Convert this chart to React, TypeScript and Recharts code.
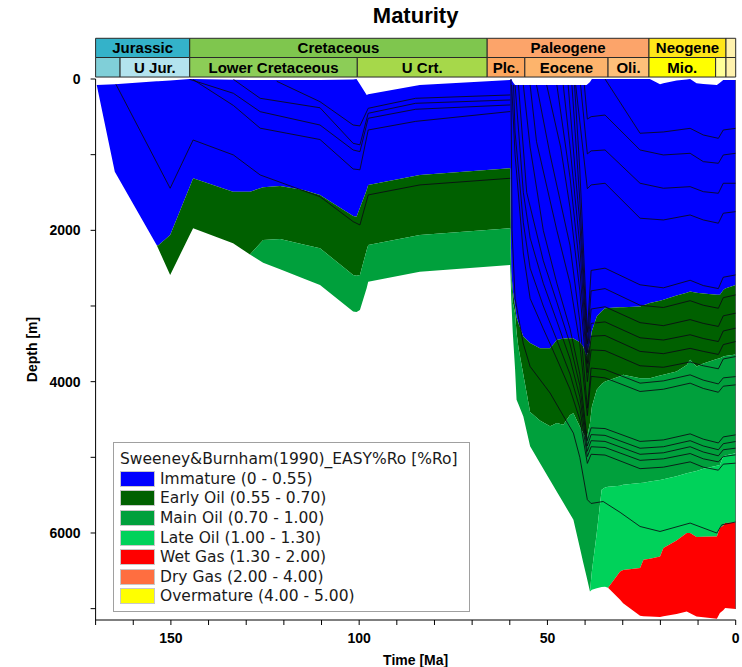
import {
  ComposedChart,
  Area,
  Line,
  XAxis,
  YAxis,
  Legend,
  ReferenceArea,
} from 'recharts'

// time grid (Ma) and zone boundaries (depth, m)
const TIME = [169.7, 164.9, 153.8, 153.4, 150.2, 145, 144.1, 133.5, 129, 125.5, 121, 114.8, 110.4, 101.6, 100.7, 99.8, 98, 97.6, 83.9, 59.9,
  59.6, 59.2, 58.6, 58.2, 57.7, 56.4, 54.6, 52, 49.3, 47.5, 45.8, 44, 43.1, 41.4, 40.5, 39.6, 38.7, 38.2, 36.9, 35.6, 34.7, 33.9, 30.7, 29.9,
  25.4, 24.5, 22.8, 20.1, 19.2, 15.7, 13, 12.1, 10.4, 8.6, 5, 4.2, 3.3, 2.8, 0]
const SURFACE = [79, 68, 30, 29, 20, 0, 0, 10, 13, 13, 13, 13, 13, 5, 0, 70, 211, 202, 79, 13,
  0, 40, 79, 79, 79, 79, 79, 79, 79, 79, 79, 79, 79, 79, 79, 79, 40, 0, 0, 0, 0, 0, 0, 0,
  0, 0, 0, 70, 55, 20, 5, 0, 57, 65, 79, 50, 13, 13, 13]
const IMM_BASE = [79, 1225, 2193, 2200, 2061, 1423, 1312, 1489, 1489, 1431, 1414, 1466, 1532, 1810, 1819, 1700, 1466, 1400, 1268, 1180,
  2550, 2800, 3000, 3150, 3227, 3404, 3490, 3557, 3557, 3448, 3430, 3425, 3430, 3480, 3536, 3668, 3490, 3330, 3140, 3070, 3029, 3025, 3018, 3016,
  3008, 2990, 2960, 2930, 2919, 2860, 2825, 2810, 2825, 2835, 2850, 2853, 2787, 2770, 2721]
const EARLY_BASE = [79, 1225, 2193, 2237, 2589, 2063, 1972, 2170, 2320, 2127, 2114, 2186, 2237, 2589, 2600, 2589, 2259, 2193, 2061, 1972,
  2650, 2950, 3095, 3350, 3550, 3910, 4400, 4514, 4590, 4548, 4571, 4440, 4416, 4593, 4680, 4769, 4548, 4330, 4108, 4030, 3999, 3985, 3930, 3910,
  3954, 3954, 3954, 3920, 3910, 3866, 3780, 3712, 3800, 3760, 3700, 3690, 3668, 3660, 3640]
const MAIN_BASE = [79, 1225, 2193, 2237, 2589, 2063, 1972, 2170, 2320, 2430, 2516, 2636, 2721, 3074, 3080, 3052, 2761, 2678, 2546, 2457,
  2920, 3355, 3830, 4240, 4300, 4460, 4854, 5074, 5302, 5454, 5598, 5750, 5826, 6192, 6390, 6580, 6773, 6510, 6001, 5429, 5400, 5390, 5375, 5363,
  5340, 5335, 5320, 5300, 5290, 5250, 5209, 5200, 5180, 5150, 5110, 5100, 4990, 4975, 4945]
const LATE_BASE = [79, 1225, 2193, 2237, 2589, 2063, 1972, 2170, 2320, 2430, 2516, 2636, 2721, 3074, 3080, 3052, 2761, 2678, 2546, 2457,
  2920, 3355, 3830, 4240, 4300, 4460, 4854, 5074, 5302, 5454, 5598, 5750, 5826, 6192, 6390, 6580, 6773, 6750, 6730, 6715, 6712, 6724, 6509, 6490,
  6464, 6354, 6340, 6311, 6200, 6100, 6001, 6001, 6054, 6050, 6046, 5935, 5900, 5869, 5861]
const BOTTOM = [79, 1225, 2193, 2237, 2589, 2063, 1972, 2170, 2320, 2430, 2516, 2636, 2721, 3074, 3080, 3052, 2761, 2678, 2546, 2457,
  2920, 3355, 3830, 4240, 4300, 4460, 4854, 5074, 5302, 5454, 5598, 5750, 5826, 6192, 6390, 6580, 6773, 6750, 6730, 6715, 6712, 6724, 6882, 6930,
  7094, 7100, 7105, 7111, 7100, 7070, 7037, 7060, 7103, 7115, 7133, 7058, 7020, 6992, 7005]

// horizon lines [Ma, depth]
const H_J1 = [[164.6, 70], [150.2, 1444], [144.1, 806], [133.4, 1004], [126.3, 1268], [116.6, 1444], [110.4, 1555], [101.6, 1885], [99.8, 1929], [97.6, 1532], [83.9, 1400], [59.9, 1312]]
const H_K4 = [[144.1, 8], [133.4, 350], [126.3, 650], [110.4, 800], [101.6, 1189], [99.8, 1200], [97.6, 674], [85, 560], [59.9, 430]]
const H_K3 = [[145, 5], [133.4, 189], [126.3, 432], [110.4, 608], [101.6, 938], [99.8, 960], [97.6, 519], [85, 400], [59.9, 343]]
const H_K2 = [[133.4, 5], [126.3, 255], [110.4, 380], [101.6, 850], [99.8, 870], [97.6, 453], [85, 321], [59.9, 277]]
const H_K1 = [[121.9, 30], [110.4, 300], [101.6, 608], [99.8, 620], [97.6, 387], [85, 255], [59.9, 211]]
const H_A = [[34.7, 0], [25.4, 717], [19.2, 700], [12.1, 652], [8.6, 740], [4.6, 784], [3.3, 674], [0, 652]]
const H_B = [[40.2, 79], [39.4, 530], [38.4, 498], [34.7, 476], [25.4, 938], [19.2, 1004], [12.1, 982], [8.6, 1092], [4.6, 1114], [3.3, 1004], [0, 982]]
const H_C = [[41.2, 79], [39.4, 990], [38.4, 950], [34.7, 938], [25.4, 1378], [19.2, 1444], [12.1, 1423], [8.6, 1489], [4.6, 1510], [3.3, 1378], [0, 1378]]
const H_D = [[42.5, 79], [39.4, 1450], [38.4, 1400], [34.7, 1378], [25.4, 1840], [19.2, 1863], [12.1, 1797], [8.6, 1863], [4.6, 1906], [3.3, 1774], [0, 1753]]
const H_E = [[42.8, 79], [41.4, 1200], [39.4, 3350], [38.4, 2530], [34.7, 2500], [25.4, 2720], [19.2, 2760], [12.1, 2660], [8.6, 2730], [4.6, 2770], [3.3, 2620], [0, 2589]]
const H_F = [[43.5, 79], [41.4, 1600], [39.4, 3500], [38.4, 2800], [34.7, 2770], [25.4, 2990], [19.2, 3020], [12.1, 2930], [8.6, 2990], [4.6, 3030], [3.3, 2890], [0, 2853]]
const H_G = [[44.5, 79], [42.5, 1300], [41.4, 1900], [39.4, 3620], [38.4, 3040], [34.7, 3010], [25.4, 3220], [19.2, 3260], [12.1, 3180], [8.6, 3230], [4.6, 3270], [3.3, 3130], [0, 3095]]
const H_H = [[45.8, 79], [44, 900], [41.4, 2200], [39.4, 3760], [38.4, 3230], [34.7, 3210], [25.4, 3420], [19.2, 3450], [12.1, 3380], [8.6, 3430], [4.6, 3470], [3.3, 3330], [0, 3293]]
const H_I = [[47.5, 79], [44, 1300], [41.4, 2500], [39.4, 3880], [38.4, 3400], [34.7, 3390], [25.4, 3600], [19.2, 3630], [12.1, 3560], [8.6, 3600], [4.6, 3640], [3.3, 3510], [0, 3470]]
const H_J = [[50.2, 79], [46.5, 900], [44, 1700], [41.4, 2800], [39.4, 4000], [38.4, 3580], [34.7, 3590], [25.4, 3790], [19.2, 3810], [12.1, 3740], [8.6, 3790], [4.6, 3830], [3.3, 3700], [0, 3668]]
const H_K = [[52.9, 79], [49.3, 1000], [44, 2200], [41.4, 3200], [39.4, 4350], [38.4, 3820], [34.7, 3840], [25.4, 4020], [19.2, 3990], [12.1, 3910], [8.6, 3980], [4.6, 4030], [3.3, 3950], [0, 3933]]
const H_L = [[54.6, 79], [52.9, 828], [47.5, 2000], [44, 2700], [41.4, 3500], [39.4, 4450], [38.4, 3930], [34.7, 3950], [25.4, 4130], [19.2, 4100], [12.1, 4020], [8.6, 4090], [4.6, 4140], [3.3, 4060], [0, 4042]]
const H_M = [[56.4, 79], [54.6, 900], [51.1, 2000], [47.5, 2700], [44, 3300], [41.4, 3900], [39.4, 4780], [38.4, 4610], [34.7, 4620], [25.4, 4790], [19.2, 4770], [12.1, 4690], [8.6, 4760], [4.6, 4810], [3.3, 4730], [0, 4703]]
const H_N = [[57.7, 79], [55.5, 1500], [51.1, 2400], [47.5, 2950], [44, 3500], [41.4, 4050], [39.4, 4850], [38.4, 4700], [34.7, 4710], [25.4, 4880], [19.2, 4860], [12.1, 4780], [8.6, 4850], [4.6, 4900], [3.3, 4820], [0, 4791]]
const H_O = [[58.6, 79], [56.4, 1500], [54.6, 2100], [51.1, 2700], [47.5, 3200], [44, 3700], [41.4, 4200], [39.4, 4920], [38.4, 4780], [34.7, 4790], [25.4, 4960], [19.2, 4940], [12.1, 4860], [8.6, 4930], [4.6, 4980], [3.3, 4900], [0, 4879]]
const H_P = [[59.0, 79], [58.6, 700], [56.4, 1900], [54.6, 2500], [51.1, 3000], [47.5, 3450], [44, 3900], [41.4, 4350], [39.4, 4990], [38.4, 4860], [34.7, 4870], [25.4, 5040], [19.2, 5020], [12.1, 4950], [8.6, 5020], [4.6, 5060], [3.3, 4990], [0, 4967]]
const H_Q = [[59.5, 79], [58.6, 1000], [56.4, 2300], [54.6, 2900], [51.1, 3300], [47.5, 3700], [44, 4100], [41.4, 4500], [39.4, 5080], [38.4, 4960], [34.7, 4970], [25.4, 5150], [19.2, 5130], [12.1, 5060], [8.6, 5130], [4.6, 5170], [3.3, 5090], [0, 5077]]
const H_R = [[59.7, 0], [59.4, 2000], [58.6, 2900], [56.4, 3500], [54.6, 3800], [49.3, 4150], [45.8, 4450], [43.1, 4680], [41.4, 5000], [39.4, 5560], [38.4, 5610], [35.2, 5584], [30.7, 5727], [25.4, 5914], [20.1, 5980], [12.1, 5869], [5, 6001], [3.7, 5892], [0, 5855]]
const H_EDGE = [[0, 13], [0, 7005]]

const HORIZONS = [H_J1, H_K4, H_K3, H_K2, H_K1, H_A, H_B, H_C, H_D, H_E, H_F, H_G, H_H, H_I, H_J, H_K, H_L, H_M, H_N, H_O, H_P, H_Q, H_R, H_EDGE]

const ZONE_NAMES = ['Immature (0 - 0.55)', 'Early Oil (0.55 - 0.70)', 'Main Oil (0.70 - 1.00)', 'Late Oil (1.00 - 1.30)', 'Wet Gas (1.30 - 2.00)', 'Dry Gas (2.00 - 4.00)', 'Overmature (4.00 - 5.00)']
const ZONE_COLORS = ['#0000ff', '#006000', '#00a03c', '#00d25a', '#ff0000', '#ff6e40', '#ffff00']
const LEGEND_TITLE = 'Sweeney&Burnham(1990)_EASY%Ro [%Ro]'

// stratigraphy bar
const PERIODS = ['Jurassic', 'Cretaceous', 'Paleogene', 'Neogene', '']
const PERIOD_START = [170, 145, 66, 23.03, 2.58]
const PERIOD_END = [145, 66, 23.03, 2.58, 0]
const PERIOD_COLORS = ['#34b2c9', '#7fc64e', '#fca46a', '#ffe619', '#fff2ae']
const EPOCHS = ['', 'U Jur.', 'Lower Cretaceous', 'U Crt.', 'Plc.', 'Eocene', 'Oli.', 'Mio.', '', '']
const EPOCH_START = [170, 163.5, 145, 100.5, 66, 56, 33.9, 23.03, 5.33, 2.58]
const EPOCH_END = [163.5, 145, 100.5, 66, 56, 33.9, 23.03, 5.33, 2.58, 0]
const EPOCH_COLORS = ['#80cfd8', '#b3e3ee', '#8ccd57', '#a6d84a', '#fda75f', '#fdb46c', '#fec07a', '#ffff00', '#ffff99', '#fff2ae']

const X_TICKS = [170, 160, 150, 140, 130, 120, 110, 100, 90, 80, 70, 60, 50, 40, 30, 20, 10, 0]
const Y_TICKS = [0, 1000, 2000, 3000, 4000, 5000, 6000, 7000]

// the strat bar sits above the depth axis, in depth units of the same scale
const BAR_TOP = -538
const BAR_MID = -284
const BAR_BOTTOM = -26

const FONT = 'Arial, "Liberation Sans", sans-serif'
const M = { top: 79, right: 6.3, bottom: 0, left: 25.6 }

const rows = TIME.map((t, i) => ({
  t,
  imm: [SURFACE[i], IMM_BASE[i]],
  early: [IMM_BASE[i], EARLY_BASE[i]],
  main: [EARLY_BASE[i], MAIN_BASE[i]],
  late: [MAIN_BASE[i], LATE_BASE[i]],
  wet: [LATE_BASE[i], BOTTOM[i]],
}))
const ZONE_KEYS = ['imm', 'early', 'main', 'late', 'wet']

function MaturityLegend() {
  return (
    <div style={{
      boxSizing: 'border-box', width: 357, height: 170, background: '#fff',
      border: '1px solid #a0a0a0', padding: '6px 0 0 6px', textAlign: 'left',
      fontFamily: '"DejaVu Sans", Verdana, sans-serif', fontSize: 15.5, color: '#1a1a1a',
    }}>
      <div style={{ height: 20, lineHeight: '20px', whiteSpace: 'nowrap' }}>{LEGEND_TITLE}</div>
      {ZONE_NAMES.map((n, i) => (
        <div key={n} style={{ display: 'flex', alignItems: 'center', height: 19.6, whiteSpace: 'nowrap' }}>
          <span style={{
            display: 'inline-block', width: 35, height: 16, boxSizing: 'border-box',
            background: ZONE_COLORS[i], border: '1px solid #c8c8c8', marginRight: 5,
          }} />
          <span>{n}</span>
        </div>
      ))}
    </div>
  )
}

const tickStyle = { fontSize: 14, fontWeight: 700, fill: '#000', fontFamily: FONT }
const barLabel = (v: string) =>
  v ? { value: v, position: 'center', fill: '#000', fontSize: 15, fontWeight: 700, fontFamily: FONT } : undefined

export default function App() {
  return (
    <div style={{ position: 'absolute', left: 0, top: 0, width: 742, height: 667, background: '#fff', fontFamily: FONT }}>
      <div style={{
        position: 'absolute', left: 95.6, top: 3, width: 640, textAlign: 'center',
        fontSize: 22, fontWeight: 700, color: '#000',
      }}>Maturity</div>

      <div style={{ position: 'absolute', left: 0, top: 0 }}>
        <ComposedChart width={742} height={667} data={rows} margin={M}>
          <XAxis dataKey="t" type="number" domain={[0, 170]} reversed allowDataOverflow
            ticks={X_TICKS} interval={0} height={47} tickSize={5} tickMargin={8}
            tickFormatter={(v: number) => (v % 50 === 0 ? String(v) : '')}
            tick={tickStyle} stroke="#000"
            label={{ value: 'Time [Ma]', position: 'insideBottom', offset: 2, style: { fontSize: 14, fontWeight: 700, fill: '#000', fontFamily: FONT } }} />
          <YAxis type="number" domain={[0, 7150]} reversed allowDataOverflow
            ticks={Y_TICKS} interval={0} width={70} tickSize={5} tickMargin={10}
            tickFormatter={(v: number) => (v % 2000 === 0 ? String(v) : '')}
            tick={tickStyle} stroke="#000"
            label={{ value: 'Depth [m]', angle: -90, position: 'insideLeft', offset: 6, style: { textAnchor: 'middle', fontSize: 14, fontWeight: 700, fill: '#000', fontFamily: FONT } }} />

          {ZONE_KEYS.map((k, i) => (
            <Area key={k} type="linear" dataKey={k} stroke="none" fill={ZONE_COLORS[i]} fillOpacity={1}
              dot={false} activeDot={false} isAnimationActive={false} />
          ))}

          {HORIZONS.map((h, i) => (
            <Line key={'h' + i} data={h.map(([t, d]) => ({ t, d }))} dataKey="d" type="linear"
              stroke="#0a0a14" strokeWidth={1} strokeOpacity={0.85} dot={false} activeDot={false}
              isAnimationActive={false} legendType="none" />
          ))}

          {PERIODS.map((p, i) => (
            <ReferenceArea key={'p' + i} x1={PERIOD_START[i]} x2={PERIOD_END[i]} y1={BAR_TOP} y2={BAR_MID}
              ifOverflow="visible" fill={PERIOD_COLORS[i]} fillOpacity={1} stroke="#2a2a2a" strokeWidth={1}
              label={barLabel(p)} />
          ))}
          {EPOCHS.map((p, i) => (
            <ReferenceArea key={'e' + i} x1={EPOCH_START[i]} x2={EPOCH_END[i]} y1={BAR_MID} y2={BAR_BOTTOM}
              ifOverflow="visible" fill={EPOCH_COLORS[i]} fillOpacity={1} stroke="#2a2a2a" strokeWidth={1}
              label={barLabel(p)} />
          ))}

          <Legend verticalAlign="middle" align="center" layout="horizontal"
            wrapperStyle={{ left: 113, top: 442, width: 357, height: 170 }}
            content={() => <MaturityLegend />} />
        </ComposedChart>
      </div>
    </div>
  )
}
